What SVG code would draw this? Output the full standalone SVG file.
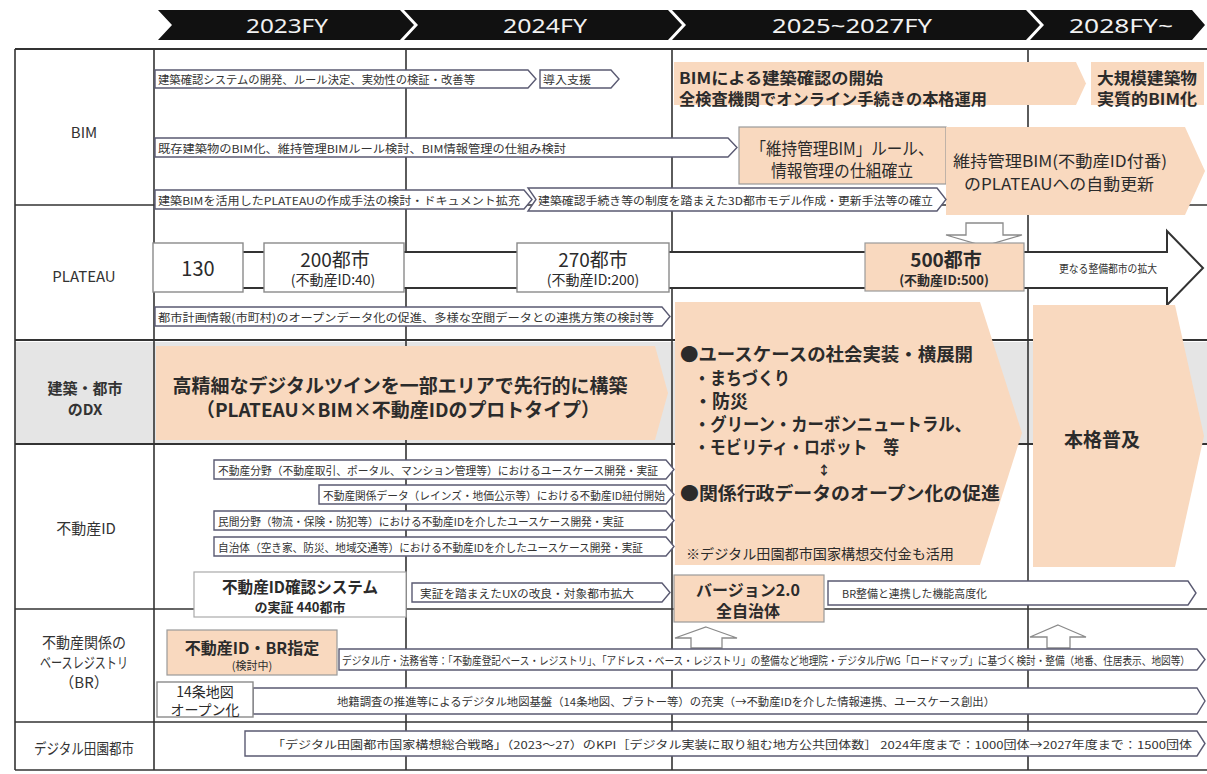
<svg xmlns="http://www.w3.org/2000/svg" width="1207" height="774" viewBox="0 0 1207 774">
<style>
text{font-family:"Noto Sans CJK JP","Noto Sans",sans-serif;fill:#2b2b2b;dominant-baseline:central}
.hd{font-family:"Noto Sans","Noto Sans CJK JP",sans-serif;font-size:20px;fill:#f2f2f2;text-anchor:middle}
.s{font-size:11px;fill:#333}
.lb{font-size:15px;text-anchor:middle;fill:#333}
.ar{fill:#fff;stroke:#5a5a72;stroke-width:1.4}
.or{fill:#f9d9bf}
.ob{fill:#f9d9bf;stroke:#9a9a9a;stroke-width:1.2}
.wb{fill:#fff;stroke:#8a8a8a;stroke-width:1.4}
.big{font-size:16px;font-weight:bold}
.c{text-anchor:middle}
.grid{stroke:#333;stroke-width:1.6;fill:none}
.hol{fill:#fff;stroke:#8a8a8a;stroke-width:1.3}
</style>
<rect width="1207" height="774" fill="#fff"/>
<g id="header">
<polygon points="158,10 400,10 414,25 400,40 158,40 172,25" fill="#111"/>
<polygon points="404,10 668,10 682,25 668,40 404,40 418,25" fill="#111"/>
<polygon points="672,10 1026,10 1040,25 1026,40 672,40 686,25" fill="#111"/>
<polygon points="1030,10 1192,10 1205,25 1192,40 1030,40 1044,25" fill="#111"/>
<text class="hd" x="287" y="25" textLength="82" lengthAdjust="spacingAndGlyphs">2023FY</text>
<text class="hd" x="545" y="25" textLength="84" lengthAdjust="spacingAndGlyphs">2024FY</text>
<text class="hd" x="852" y="25" textLength="160" lengthAdjust="spacingAndGlyphs">2025~2027FY</text>
<text class="hd" x="1121" y="25" textLength="104" lengthAdjust="spacingAndGlyphs">2028FY~</text>
</g>
<g id="dx-bg"><rect x="15" y="342" width="1192" height="101" fill="#e5e5e5"/></g>
<g id="grid" class="grid">
<line x1="15" y1="49" x2="1207" y2="49" stroke-width="2"/>
<line x1="15" y1="205" x2="1207" y2="205"/>
<line x1="15" y1="340" x2="1207" y2="340" stroke-width="2"/>
<line x1="15" y1="444" x2="1207" y2="444" stroke-width="2"/>
<line x1="15" y1="609" x2="1207" y2="609"/>
<line x1="15" y1="722" x2="1207" y2="722"/>
<line x1="15" y1="770" x2="1207" y2="770"/>
<line x1="15" y1="49" x2="15" y2="770"/>
<line x1="154" y1="49" x2="154" y2="770"/>
<line x1="406" y1="49" x2="406" y2="770"/>
<line x1="672" y1="49" x2="672" y2="770"/>
<line x1="1028" y1="49" x2="1028" y2="770"/>
</g>
<g id="labels">
<text class="lb" x="84" y="131">BIM</text>
<text class="lb" x="84" y="275">PLATEAU</text>
<text class="lb" x="85" y="387" font-size="14" font-weight="bold" fill="#222">建築・都市</text>
<text class="lb" x="85" y="408" font-size="14" font-weight="bold" fill="#222">のDX</text>
<text class="lb" x="86" y="527" font-size="17">不動産ID</text>
<text class="lb" x="84" y="641" font-size="12" textLength="84" lengthAdjust="spacingAndGlyphs">不動産関係の</text>
<text class="lb" x="84" y="661" font-size="12" textLength="88" lengthAdjust="spacingAndGlyphs">ベースレジストリ</text>
<text class="lb" x="84" y="681" font-size="12">（BR）</text>
<text class="lb" x="84" y="747" font-size="12" textLength="100" lengthAdjust="spacingAndGlyphs">デジタル田園都市</text>
</g>
<g id="bim-1"><polygon class="ar" points="155,70 528,70 536,79 528,88 155,88"/><text class="s" x="158" y="79" textLength="317" lengthAdjust="spacingAndGlyphs">建築確認システムの開発、ルール決定、実効性の検証・改善等</text></g>
<g id="bim-2"><polygon class="ar" points="540,70 611,70 619,79 611,88 540,88"/><text class="s" x="543" y="79" textLength="48" lengthAdjust="spacingAndGlyphs">導入支援</text></g>
<g id="bim-3"><polygon class="or" points="674,62 1076,62 1086,83.5 1076,105 674,105"/><text class="big" x="679" y="77" textLength="204" lengthAdjust="spacingAndGlyphs">BIMによる建築確認の開始</text><text class="big" x="679" y="98" textLength="308" lengthAdjust="spacingAndGlyphs">全検査機関でオンライン手続きの本格運用</text></g>
<g id="bim-4"><rect class="or" x="1091" y="62" width="113" height="43"/><text class="big" x="1097" y="77" textLength="100" lengthAdjust="spacingAndGlyphs">大規模建築物</text><text class="big" x="1097" y="98" textLength="100" lengthAdjust="spacingAndGlyphs">実質的BIM化</text></g>
<g id="bim-5"><polygon class="ar" points="155,138 728,138 737,147.5 728,157 155,157"/><text class="s" x="158" y="147.5" textLength="408" lengthAdjust="spacingAndGlyphs">既存建築物のBIM化、維持管理BIMルール検討、BIM情報管理の仕組み検討</text></g>
<g id="bim-6"><rect class="ob" x="739" y="127" width="207" height="57"/><text class="c" x="842" y="147" font-size="17" textLength="183" lengthAdjust="spacingAndGlyphs">「維持管理BIM」ルール、</text><text class="c" x="842" y="169" font-size="17" textLength="142" lengthAdjust="spacingAndGlyphs">情報管理の仕組確立</text></g>
<g id="bim-7"><polygon class="or" points="946,127 1185,127 1205,171 1185,215 946,215"/><text class="c" x="1060" y="160" font-size="16" textLength="214" lengthAdjust="spacingAndGlyphs">維持管理BIM(不動産ID付番)</text><text class="c" x="1059" y="183" font-size="16" textLength="190" lengthAdjust="spacingAndGlyphs">のPLATEAUへの自動更新</text></g>
<g id="bim-8"><polygon class="ar" points="155,190 524,190 532,199.5 524,209 155,209"/><text class="s" x="158" y="199.5" textLength="362" lengthAdjust="spacingAndGlyphs">建築BIMを活用したPLATEAUの作成手法の検討・ドキュメント拡充</text></g>
<g id="bim-9"><polygon class="ar" points="528,188 937,188 946,199.5 937,211 528,211 536,199.5"/><text class="s" x="538" y="199.5" textLength="395" lengthAdjust="spacingAndGlyphs">建築確認手続き等の制度を踏まえた3D都市モデル作成・更新手法等の確立</text></g>
<g id="connectors">
<polygon points="155,252 1167,252 1167,231 1203,268 1167,305 1167,288 155,288" fill="#fff" stroke="#333" stroke-width="2"/>
<polygon class="hol" points="966,223 1003,223 1003,235 1022,235 984,246 946,235 966,235"/>
<polygon class="hol" points="706,627 737,638 722,638 722,648 691,648 691,638 675,638"/>
<polygon class="hol" points="1058,625 1086,637 1070,637 1070,648 1047,648 1047,637 1030,637"/>
</g>
<g id="plateau-130"><rect class="wb" x="153" y="243" width="90" height="49"/><text class="c" x="198" y="267" font-size="20">130</text></g>
<g id="plateau-200"><rect class="wb" x="264" y="243" width="140" height="49"/><text class="c" x="335" y="258" font-size="19">200都市</text><text class="c" x="333" y="279" font-size="14">(不動産ID:40)</text></g>
<g id="plateau-270"><rect class="wb" x="517" y="243" width="152" height="49"/><text class="c" x="593" y="258" font-size="19">270都市</text><text class="c" x="593" y="279" font-size="14">(不動産ID:200)</text></g>
<g id="plateau-500"><rect class="ob" x="865" y="243" width="159" height="48"/><text class="c" x="946" y="258" font-size="19" font-weight="bold">500都市</text><text class="c" x="944" y="279" font-size="13" font-weight="bold">(不動産ID:500)</text></g>
<g id="plateau-more"><text class="s" x="1059" y="268" font-size="9" textLength="98" lengthAdjust="spacingAndGlyphs">更なる整備都市の拡大</text></g>
<g id="plateau-open"><polygon class="ar" points="155,307 662,307 670,316.5 662,326 155,326"/><text class="s" x="158" y="316.5" textLength="496" lengthAdjust="spacingAndGlyphs">都市計画情報(市町村)のオープンデータ化の促進、多様な空間データとの連携方策の検討等</text></g>
<g id="dx-proto"><polygon class="or" points="156,346 655,346 668,393 655,440 156,440"/><text class="c" x="400" y="384" font-size="19" font-weight="bold" textLength="455" lengthAdjust="spacingAndGlyphs">高精細なデジタルツインを一部エリアで先行的に構築</text><text class="c" x="398" y="408" font-size="19" font-weight="bold" textLength="404" lengthAdjust="spacingAndGlyphs">（PLATEAU×BIM×不動産IDのプロトタイプ）</text></g>
<g id="dx-usecase"><polygon class="or" points="675,302 980,302 1022,433 980,565 675,565"/>
<text x="680" y="353" font-size="18" font-weight="bold" textLength="293" lengthAdjust="spacingAndGlyphs">●ユースケースの社会実装・横展開</text>
<text x="694" y="377" font-size="18" font-weight="bold" textLength="96" lengthAdjust="spacingAndGlyphs">・まちづくり</text>
<text x="694" y="400" font-size="18" font-weight="bold">・防災</text>
<text x="694" y="423" font-size="18" font-weight="bold" textLength="277" lengthAdjust="spacingAndGlyphs">・グリーン・カーボンニュートラル、</text>
<text x="694" y="446" font-size="18" font-weight="bold" textLength="205" lengthAdjust="spacingAndGlyphs">・モビリティ・ロボット　等</text>
<text class="c" x="824" y="469" font-size="13" font-weight="bold">↕</text>
<text x="680" y="492" font-size="18" font-weight="bold" textLength="320" lengthAdjust="spacingAndGlyphs">●関係行政データのオープン化の促進</text>
<text x="686" y="553" font-size="14" fill="#777" textLength="268" lengthAdjust="spacingAndGlyphs">※デジタル田園都市国家構想交付金も活用</text></g>
<g id="dx-full"><polygon class="or" points="1033,305 1175,305 1204,436 1175,567 1033,567"/><text class="c" x="1102" y="438" font-size="19" font-weight="bold">本格普及</text></g>
<g id="id-1"><polygon class="ar" points="214,460 666,460 674,469.5 666,479 214,479"/><text class="s" x="218" y="469.5" textLength="440" lengthAdjust="spacingAndGlyphs">不動産分野（不動産取引、ポータル、マンション管理等）におけるユースケース開発・実証</text></g>
<g id="id-2"><polygon class="ar" points="319,485 666,485 674,494.5 666,504 319,504"/><text class="s" x="323" y="494.5" textLength="342" lengthAdjust="spacingAndGlyphs">不動産関係データ（レインズ・地価公示等）における不動産ID紐付開始</text></g>
<g id="id-3"><polygon class="ar" points="214,511 666,511 674,520.5 666,530 214,530"/><text class="s" x="218" y="520.5" textLength="406" lengthAdjust="spacingAndGlyphs">民間分野（物流・保険・防犯等）における不動産IDを介したユースケース開発・実証</text></g>
<g id="id-4"><polygon class="ar" points="214,537 666,537 674,546.5 666,556 214,556"/><text class="s" x="218" y="546.5" textLength="425" lengthAdjust="spacingAndGlyphs">自治体（空き家、防災、地域交通等）における不動産IDを介したユースケース開発・実証</text></g>
<g id="id-check"><rect x="194" y="572" width="212" height="45" fill="#fff" stroke="#aaa" stroke-width="1.2"/><text class="c" x="300" y="586" font-size="16" font-weight="bold" textLength="156" lengthAdjust="spacingAndGlyphs">不動産ID確認システム</text><text class="c" x="300" y="606" font-size="13" font-weight="bold">の実証  440都市</text></g>
<g id="id-ux"><polygon class="ar" points="412,583 662,583 670,592.5 662,602 412,602"/><text class="s" x="420" y="592.5" textLength="214" lengthAdjust="spacingAndGlyphs">実証を踏まえたUXの改良・対象都市拡大</text></g>
<g id="id-v2"><rect class="ob" x="674" y="575" width="150" height="47"/><text class="c" x="748" y="589" font-size="16" font-weight="bold">バージョン2.0</text><text class="c" x="748" y="610" font-size="16" font-weight="bold">全自治体</text></g>
<g id="id-br"><polygon class="ar" points="828,581 1188,581 1196,593 1188,605 828,605"/><text class="s" x="842" y="593" textLength="145" lengthAdjust="spacingAndGlyphs">BR整備と連携した機能高度化</text></g>
<g id="br-spec"><rect class="ob" x="167" y="630" width="170" height="45"/><text class="c" x="252" y="647" font-size="16" font-weight="bold">不動産ID・BR指定</text><text class="c" x="252" y="665" font-size="11">(検討中)</text></g>
<g id="br-registry"><polygon class="ar" points="339,649 1197,649 1205,659.5 1197,670 339,670"/><text class="s" x="342" y="659.5" font-size="10" textLength="848" lengthAdjust="spacingAndGlyphs">デジタル庁・法務省等：「不動産登記ベース・レジストリ」、「アドレス・ベース・レジストリ」の整備など地理院・デジタル庁WG「ロードマップ」に基づく検討・整備（地番、住居表示、地図等）</text></g>
<g id="br-map"><polygon class="ar" points="253,688 1197,688 1205,701 1197,714 253,714"/><text class="s" x="337" y="701" textLength="658" lengthAdjust="spacingAndGlyphs">地籍調査の推進等によるデジタル地図基盤（14条地図、プラトー等）の充実（→不動産IDを介した情報連携、ユースケース創出）</text></g>
<g id="br-14"><rect class="wb" x="157" y="682" width="96" height="35"/><text class="c" x="205" y="691" font-size="14">14条地図</text><text class="c" x="205" y="709" font-size="14">オープン化</text></g>
<g id="digital"><polygon class="ar" points="245,731 1197,731 1205,743.5 1197,756 245,756"/><text class="s" x="272" y="743.5" textLength="920" lengthAdjust="spacingAndGlyphs">「デジタル田園都市国家構想総合戦略」（2023～27）のKPI［デジタル実装に取り組む地方公共団体数］ 2024年度まで：1000団体→2027年度まで：1500団体</text></g>
</svg>
